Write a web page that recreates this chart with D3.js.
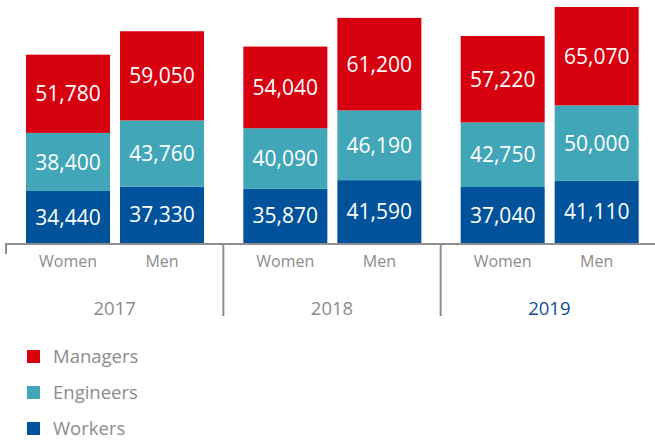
<!DOCTYPE html>
<html lang="en">
<head>
<meta charset="UTF-8">
<title>Headcount by category</title>
<script src="https://cdn.jsdelivr.net/npm/d3@7"></script>
<style>
    html, body {
        margin: 0;
        padding: 0;
        background: #fff;
    }
    text {
        font-family: "Open Sans", "Noto Sans", sans-serif;
    }
    .axis-line {
        stroke: #8f8f8f;
        stroke-width: 2px;
        fill: none;
    }
</style>
</head>
<body>
<svg id="chart" width="655" height="442"></svg>
<script>
// data
var years = ["2017", "2018", "2019"];
var genders = ["Women", "Men"];
var categories = ["Workers", "Engineers", "Managers"];
var workers   = [34440, 37330, 35870, 41590, 37040, 41110];
var engineers = [38400, 43760, 40090, 46190, 42750, 50000];
var managers  = [51780, 59050, 54040, 61200, 57220, 65070];

var colors = {Workers: "#00539b", Engineers: "#42a6b9", Managers: "#d7000f"};
var legendOrder = ["Managers", "Engineers", "Workers"];

// build rows for the stack
var rows = [];
years.forEach(function(y, i) {
    genders.forEach(function(g, j) {
        var k = i * 2 + j;
        rows.push({year: y, gender: g, Workers: workers[k], Engineers: engineers[k], Managers: managers[k]});
    });
});

var svg = d3.select("#chart");
var baseY = 243;

var x0 = d3.scaleBand().domain(years).range([6, 658]);
var x1 = d3.scaleBand().domain(genders)
    .range([20, x0.bandwidth() - 19.3])
    .paddingInner(10 / 94);

var stack = d3.stack().keys(categories);
var series = stack(rows);

var y = d3.scaleLinear()
    .domain([0, d3.max(series[series.length - 1], function(d) { return d[1]; })])
    .range([baseY, 7]);

var fmt = d3.format(",");

var layers = svg.append("g").selectAll("g")
    .data(series)
    .enter().append("g")
    .attr("fill", function(s) { return colors[s.key]; });

layers.selectAll("rect")
    .data(function(s) { return s; })
    .enter().append("rect")
    .attr("x", function(d) { return x0(d.data.year) + x1(d.data.gender); })
    .attr("width", x1.bandwidth())
    .attr("y", function(d) { return y(d[1]); })
    .attr("height", function(d) { return y(d[0]) - y(d[1]); });

// value labels
series.forEach(function(s) {
    svg.append("g").selectAll("text")
        .data(s)
        .enter().append("text")
        .attr("x", function(d) { return x0(d.data.year) + x1(d.data.gender) + x1.bandwidth() / 2; })
        .attr("y", function(d) { return (y(d[0]) + y(d[1])) / 2; })
        .attr("dy", "0.36em")
        .attr("text-anchor", "middle")
        .attr("fill", "#fff")
        .style("font-size", "21px")
        .text(function(d) { return fmt(d.data[s.key]); });
});

// axis line with ticks and separators
var axisG = svg.append("g");
axisG.append("line").attr("class", "axis-line")
    .attr("x1", x0.range()[0]).attr("x2", 655)
    .attr("y1", baseY + 1).attr("y2", baseY + 1);
axisG.append("line").attr("class", "axis-line")
    .attr("x1", x0.range()[0]).attr("x2", x0.range()[0])
    .attr("y1", baseY).attr("y2", baseY + 11);
axisG.selectAll(".sep")
    .data(years.slice(1))
    .enter().append("line")
    .attr("class", "axis-line")
    .attr("x1", function(d) { return x0(d); })
    .attr("x2", function(d) { return x0(d); })
    .attr("y1", baseY)
    .attr("y2", 316);

// gender labels
rows.forEach(function(r) {
    axisG.append("text")
        .attr("x", x0(r.year) + x1(r.gender) + x1.bandwidth() / 2)
        .attr("y", 267)
        .attr("text-anchor", "middle")
        .attr("fill", "#8c8c8c")
        .style("font-size", "16px")
        .text(r.gender);
});

// year labels
axisG.selectAll(".year")
    .data(years)
    .enter().append("text")
    .attr("x", function(d) { return x0(d) + x0.bandwidth() / 2; })
    .attr("y", 315)
    .attr("text-anchor", "middle")
    .attr("fill", function(d) { return d === "2019" ? "#0b5098" : "#8c8c8c"; })
    .style("font-size", "18.5px")
    .text(function(d) { return d; });

// legend
var legend = svg.append("g").selectAll("g")
    .data(legendOrder)
    .enter().append("g")
    .attr("transform", function(d, i) { return "translate(27," + (350 + i * 36) + ")"; });

legend.append("rect")
    .attr("width", 13)
    .attr("height", 13)
    .attr("fill", function(d) { return colors[d]; });

legend.append("text")
    .attr("x", 26)
    .attr("y", 6.5)
    .attr("dy", "0.36em")
    .attr("fill", "#8c8c8c")
    .style("font-size", "18.5px")
    .text(function(d) { return d; });
</script>
</body>
</html>
